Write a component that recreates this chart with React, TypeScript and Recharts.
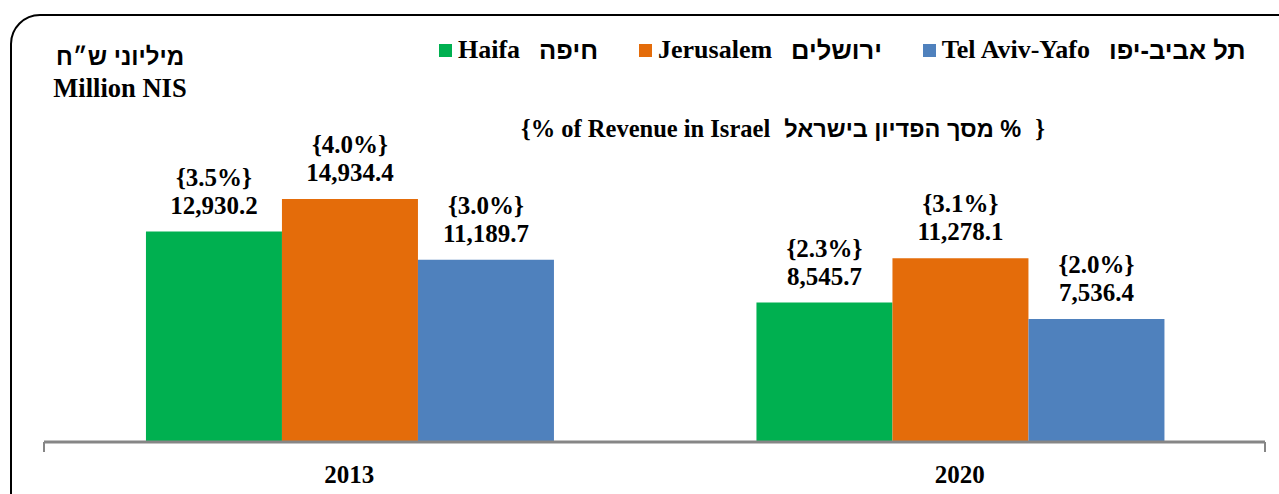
import { Bar, BarChart, LabelList, XAxis, YAxis } from "recharts";

const years = ["2013", "2020"];
const haifa = [12930.2, 8545.7];
const jerusalem = [14934.4, 11278.1];
const telAviv = [11189.7, 7536.4];
const haifaShare = [3.5, 2.3];
const jerusalemShare = [4.0, 3.1];
const telAvivShare = [3.0, 2.0];

const legendItems = [
  { en: "Haifa", he: "חיפה", color: "#00B050" },
  { en: "Jerusalem", he: "ירושלים", color: "#E46C0A" },
  { en: "Tel Aviv-Yafo", he: "תל אביב-יפו", color: "#4F81BD" },
];

const serif = '"Liberation Serif", "Times New Roman", serif';
const sans = '"Liberation Sans", Arial, "DejaVu Sans", sans-serif';

const chartData = years.map((year, i) => ({
  year,
  haifa: haifa[i],
  jerusalem: jerusalem[i],
  telAviv: telAviv[i],
}));

function formatValue(v: number) {
  return v.toLocaleString("en-US", { minimumFractionDigits: 1, maximumFractionDigits: 1 });
}

function makeLabel(shares: number[]) {
  return (props: any) => {
    const { x, y, width, value, index } = props;
    const cx = Number(x) + Number(width) / 2;
    return (
      <g>
        <text x={cx} y={Number(y) - 46} textAnchor="middle" fontFamily={serif} fontWeight={700} fontSize={25} fill="#000">
          {`{${shares[index].toFixed(1)}%}`}
        </text>
        <text x={cx} y={Number(y) - 18} textAnchor="middle" fontFamily={serif} fontWeight={700} fontSize={25} fill="#000">
          {formatValue(Number(value))}
        </text>
      </g>
    );
  };
}

// year labels hang below the (1px high) category axis box
function YearTick(props: any) {
  const { x, y, payload } = props;
  return (
    <text x={x} y={y + 42} textAnchor="middle" fontFamily={serif} fontWeight={700} fontSize={25} fill="#000">
      {payload.value}
    </text>
  );
}

export default function App() {
  return (
    <div style={{ position: "absolute", left: 0, top: 0, width: 1279, height: 494, overflow: "hidden", background: "#fff" }}>
      <div
        style={{
          position: "absolute",
          left: 10,
          top: 14,
          width: 1320,
          height: 540,
          border: "2px solid #000",
          borderRadius: 30,
          boxSizing: "border-box",
        }}
      />

      <div style={{ position: "absolute", left: 0, top: 0 }}>
        <BarChart
          width={1279}
          height={494}
          data={chartData}
          margin={{ top: 117, right: 14, left: 44, bottom: 0 }}
          barCategoryGap="16.7%"
          barGap={0}
        >
          {/* boundary ticks between the year groups */}
          <XAxis
            xAxisId="edge"
            type="number"
            domain={[0, 2]}
            ticks={[0, 1, 2]}
            interval={0}
            allowDataOverflow
            height={52}
            tickFormatter={() => ""}
            tickSize={10}
            axisLine={{ stroke: "#868686", strokeWidth: 3 }}
            tickLine={{ stroke: "#868686", strokeWidth: 2 }}
          />
          <XAxis
            xAxisId="cat"
            dataKey="year"
            height={1}
            axisLine={false}
            tickLine={false}
            tickSize={0}
            tickMargin={0}
            tick={<YearTick />}
          />
          <YAxis hide domain={[0, 20000]} />
          <Bar xAxisId="cat" dataKey="haifa" fill="#00B050" isAnimationActive={false}>
            <LabelList dataKey="haifa" content={makeLabel(haifaShare)} />
          </Bar>
          <Bar xAxisId="cat" dataKey="jerusalem" fill="#E46C0A" isAnimationActive={false}>
            <LabelList dataKey="jerusalem" content={makeLabel(jerusalemShare)} />
          </Bar>
          <Bar xAxisId="cat" dataKey="telAviv" fill="#4F81BD" isAnimationActive={false}>
            <LabelList dataKey="telAviv" content={makeLabel(telAvivShare)} />
          </Bar>
        </BarChart>
      </div>

      {/* unit label, top left */}
      <div style={{ position: "absolute", left: 40, top: 44, width: 160, textAlign: "center", color: "#000" }}>
        <div dir="rtl" style={{ fontFamily: sans, fontWeight: 700, fontSize: 24, lineHeight: "26px" }}>
          מיליוני ש״ח
        </div>
        <div style={{ fontFamily: serif, fontWeight: 700, fontSize: 26.5, lineHeight: "26px", marginTop: 5 }}>
          Million NIS
        </div>
      </div>

      {/* legend */}
      <div style={{ position: "absolute", left: 439, top: 37, display: "flex", alignItems: "center", gap: 41 }}>
        {legendItems.map((item) => (
          <div key={item.en} style={{ display: "flex", alignItems: "center" }}>
            <span style={{ display: "inline-block", width: 13, height: 13, background: item.color, marginRight: 6 }} />
            <span style={{ fontFamily: serif, fontWeight: 700, fontSize: 26, lineHeight: "26px" }}>{item.en}</span>
            <span dir="rtl" style={{ fontFamily: sans, fontWeight: 700, fontSize: 25.5, lineHeight: "26px", marginLeft: 19 }}>
              {item.he}
            </span>
          </div>
        ))}
      </div>

      {/* subtitle */}
      <div style={{ position: "absolute", left: 521, top: 116, display: "flex", alignItems: "center", whiteSpace: "nowrap" }}>
        <span style={{ fontFamily: serif, fontWeight: 700, fontSize: 24.5, lineHeight: "26px" }}>{"{% of Revenue in Israel"}</span>
        <span dir="rtl" style={{ fontFamily: sans, fontWeight: 700, fontSize: 23.5, lineHeight: "26px", marginLeft: 14 }}>
          % מסך הפדיון בישראל
        </span>
        <span style={{ fontFamily: serif, fontWeight: 700, fontSize: 24.5, lineHeight: "26px", marginLeft: 14 }}>{"}"}</span>
      </div>
    </div>
  );
}
